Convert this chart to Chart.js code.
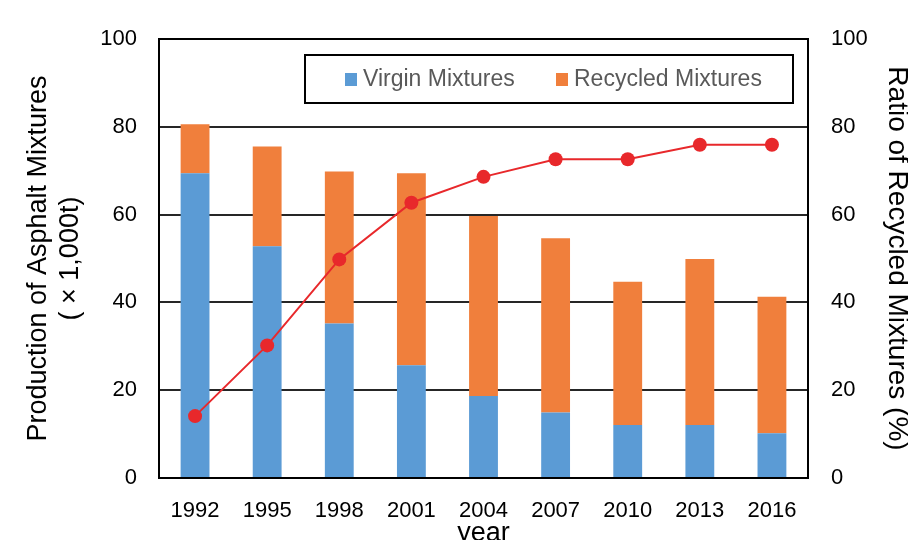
<!DOCTYPE html>
<html>
<head>
<meta charset="utf-8">
<script src="https://cdn.jsdelivr.net/npm/chart.js@4.4.1/dist/chart.umd.min.js"></script>
<style>
  html, body { margin: 0; padding: 0; background: #fff; overflow: hidden; }
  #wrap { width: 908px; height: 540px; overflow: hidden; }
</style>
</head>
<body>
<div id="wrap"><canvas id="myChart" width="916" height="552"></canvas></div>
<script>
// values
var years = ['1992', '1995', '1998', '2001', '2004', '2007', '2010', '2013', '2016'];
var virgin = [69.4, 52.8, 35.2, 25.7, 18.7, 14.9, 12.1, 12.1, 10.2];
var recycled = [11.2, 22.7, 34.6, 43.7, 41.0, 39.7, 32.6, 37.8, 31.1];
var ratio = [14.1, 30.2, 49.8, 62.7, 68.6, 72.6, 72.6, 75.9, 75.9];
var yTicks = [0, 20, 40, 60, 80, 100];

var FONT = "'Liberation Sans', Arial, sans-serif";

// frame around the plot area
var frame = {
    id: 'frame',
    afterDatasetsDraw: function (chart) {
        var a = chart.chartArea, ctx = chart.ctx;
        ctx.save();
        ctx.strokeStyle = '#000';
        ctx.lineWidth = 2;
        ctx.strokeRect(a.left, a.top, a.right - a.left, a.bottom - a.top);
        ctx.restore();
    }
};

// boxed legend inside the plot, bar series only
var boxLegend = {
    id: 'boxLegend',
    afterDraw: function (chart) {
        var a = chart.chartArea, ctx = chart.ctx;
        var x = a.right - 503, y = a.top + 16, w = 488, h = 48;
        ctx.save();
        ctx.fillStyle = '#fff';
        ctx.fillRect(x, y, w, h);
        ctx.strokeStyle = '#000';
        ctx.lineWidth = 2;
        ctx.strokeRect(x, y, w, h);
        ctx.font = '23px ' + FONT;
        ctx.textBaseline = 'middle';
        var items = chart.data.datasets.filter(function (d) { return d.type === 'bar'; });
        var offsets = [40, 251];
        items.forEach(function (d, i) {
            var ix = x + offsets[i];
            ctx.fillStyle = d.backgroundColor;
            ctx.fillRect(ix, y + 18, 12, 13);
            ctx.fillStyle = '#595959';
            ctx.fillText(d.label, ix + 18, y + 25);
        });
        ctx.restore();
    }
};

function chart() {
    var ctx = document.getElementById('myChart').getContext('2d');

    new Chart(ctx, {
        data: {
            labels: years,
            datasets: [{
                type: 'line',
                label: 'Ratio of Recycled Mixtures',
                data: ratio,
                yAxisID: 'y1',
                borderColor: '#E8282B',
                backgroundColor: '#E8282B',
                borderWidth: 2,
                pointRadius: 7,
                pointBorderWidth: 0,
                tension: 0,
                order: 0
            }, {
                type: 'bar',
                label: 'Virgin Mixtures',
                data: virgin,
                yAxisID: 'y',
                backgroundColor: '#5B9BD5',
                barPercentage: 0.4,
                categoryPercentage: 1.0,
                order: 1
            }, {
                type: 'bar',
                label: 'Recycled Mixtures',
                data: recycled,
                yAxisID: 'y',
                backgroundColor: '#F07F3C',
                barPercentage: 0.4,
                categoryPercentage: 1.0,
                order: 1
            }]
        },
        options: {
            responsive: false,
            animation: false,
            devicePixelRatio: 1,
            layout: { padding: { top: 39, left: 0, right: 0, bottom: 0 } },
            plugins: {
                legend: { display: false },
                tooltip: { enabled: false }
            },
            scales: {
                x: {
                    stacked: true,
                    grid: { display: false },
                    border: { display: false },
                    ticks: { color: '#000', padding: 12, font: { family: FONT, size: 22 } },
                    title: {
                        display: true,
                        text: 'year',
                        color: '#000',
                        padding: { top: 0, bottom: 2 },
                        font: { family: FONT, size: 27 }
                    },
                    afterFit: function (s) { s.height = 74; }
                },
                y: {
                    stacked: true,
                    position: 'left',
                    min: 0,
                    max: 100,
                    afterBuildTicks: function (s) { s.ticks = yTicks.map(function (v) { return { value: v }; }); },
                    grid: { color: '#262626', lineWidth: 2, drawTicks: false },
                    border: { display: false },
                    ticks: { color: '#000', padding: 22, font: { family: FONT, size: 22 } },
                    title: {
                        display: true,
                        text: ['Production of Asphalt Mixtures', '( \u00d7 1,000t)'],
                        color: '#000',
                        padding: { top: 22, bottom: 0 },
                        font: { family: FONT, size: 27 }
                    },
                    afterFit: function (s) { s.width = 159; }
                },
                y1: {
                    position: 'right',
                    min: 0,
                    max: 100,
                    afterBuildTicks: function (s) { s.ticks = yTicks.map(function (v) { return { value: v }; }); },
                    grid: { display: false, drawTicks: false },
                    border: { display: false },
                    ticks: { color: '#000', padding: 23, font: { family: FONT, size: 22 } },
                    title: {
                        display: true,
                        text: 'Ratio of Recycled Mixtures (%)',
                        color: '#000',
                        padding: { top: 2, bottom: 0 },
                        font: { family: FONT, size: 28 }
                    },
                    afterFit: function (s) { s.width = 108; }
                }
            }
        },
        plugins: [frame, boxLegend]
    });
}

chart();
</script>
</body>
</html>
